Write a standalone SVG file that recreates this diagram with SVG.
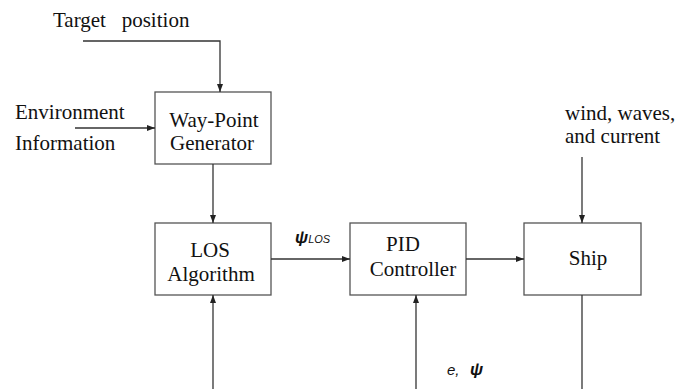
<svg xmlns="http://www.w3.org/2000/svg" width="689" height="389" viewBox="0 0 689 389">
<style>
.box{fill:#fff;stroke:#555;stroke-width:1.3}
text.t{font-family:'Liberation Serif','Times New Roman','DejaVu Serif',serif;font-size:21px;fill:#111}
.c{text-anchor:middle}
.ln{fill:none;stroke:#333;stroke-width:1.3}
.g{font-family:'Liberation Sans',Arial,sans-serif;font-style:italic;fill:#111}
</style>
<defs>
<marker id="ah" markerWidth="8" markerHeight="6" refX="8" refY="3" orient="auto" markerUnits="userSpaceOnUse">
<path d="M0,0 L8,3 L0,6 Z" fill="#222"/>
</marker>
</defs>
<rect width="689" height="389" fill="#fff"/>
<g font-family="Liberation Serif, Times New Roman, DejaVu Serif, serif">
<text class="t" x="53" y="27" xml:space="preserve">Target   position</text>
<text class="t" x="15" y="119">Environment</text>
<text class="t" x="15" y="150">Information</text>
<text class="t" x="565" y="120">wind, waves,</text>
<text class="t" x="565" y="143">and current</text>
<g id="waypoint">
<rect class="box" x="155" y="92" width="116" height="72"/>
<text class="t c" x="214" y="127">Way-Point</text>
<text class="t c" x="212" y="150">Generator</text>
</g>
<g id="los">
<rect class="box" x="155" y="223" width="116" height="72"/>
<text class="t c" x="210" y="257">LOS</text>
<text class="t c" x="211" y="281">Algorithm</text>
</g>
<g id="pid">
<rect class="box" x="350" y="223" width="116" height="72"/>
<text class="t c" x="403" y="251">PID</text>
<text class="t c" x="413" y="276">Controller</text>
</g>
<g id="ship">
<rect class="box" x="524" y="223" width="117" height="72"/>
<text class="t c" x="588" y="265">Ship</text>
</g>
</g>
<g id="connectors">
<polyline class="ln" points="83,41 220,41 220,92" marker-end="url(#ah)"/>
<line class="ln" x1="75" y1="128" x2="155" y2="128" marker-end="url(#ah)"/>
<line class="ln" x1="213" y1="164" x2="213" y2="223" marker-end="url(#ah)"/>
<line class="ln" x1="271" y1="259" x2="350" y2="259" marker-end="url(#ah)"/>
<line class="ln" x1="466" y1="259" x2="524" y2="259" marker-end="url(#ah)"/>
<line class="ln" x1="582" y1="157" x2="582" y2="223" marker-end="url(#ah)"/>
<line class="ln" x1="213" y1="389" x2="213" y2="295" marker-end="url(#ah)"/>
<line class="ln" x1="416" y1="389" x2="416" y2="295" marker-end="url(#ah)"/>
<line class="ln" x1="582" y1="295" x2="582" y2="389"/>
</g>
<text class="g" x="295" y="243" font-size="17" font-weight="bold">ψ<tspan font-size="11" font-weight="normal">LOS</tspan></text>
<text class="g" x="447" y="375" font-size="15">e,</text>
<text class="g" x="470" y="375" font-size="17" font-weight="bold">ψ</text>
</svg>
